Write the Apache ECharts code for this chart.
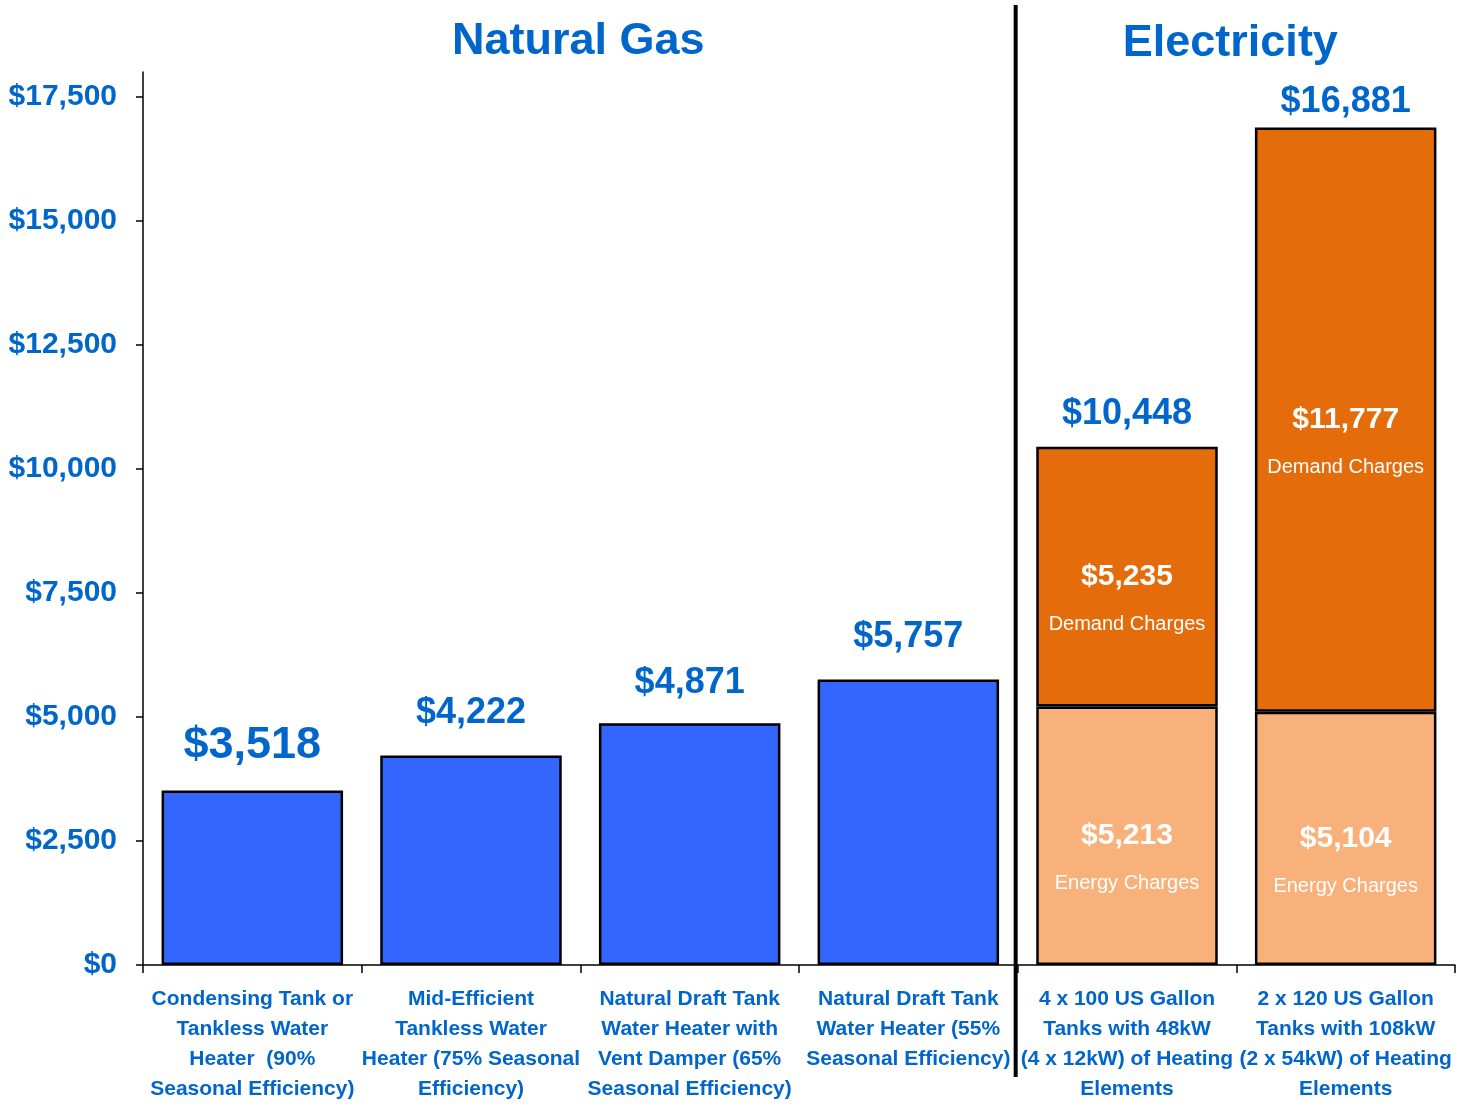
<!DOCTYPE html>
<html>
<head>
<meta charset="utf-8">
<script src="https://cdn.jsdelivr.net/npm/echarts@6/dist/echarts.min.js"></script>
<style>
html,body{margin:0;padding:0;background:#fff;}
#chart{width:1460px;height:1110px;}
</style>
</head>
<body>
<div id="chart"></div>
<script>
const categories = [
  'Condensing Tank or\nTankless Water\nHeater  (90%\nSeasonal Efficiency)',
  'Mid-Efficient\nTankless Water\nHeater (75% Seasonal\nEfficiency)',
  'Natural Draft Tank\nWater Heater with\nVent Damper (65%\nSeasonal Efficiency)',
  'Natural Draft Tank\nWater Heater (55%\nSeasonal Efficiency)',
  '4 x 100 US Gallon\nTanks with 48kW\n(4 x 12kW) of Heating\nElements',
  '2 x 120 US Gallon\nTanks with 108kW\n(2 x 54kW) of Heating\nElements'
];
const gasCost = [3518, 4222, 4871, 5757, null, null];
const energyCharges = [null, null, null, null, 5213, 5104];
const demandCharges = [null, null, null, null, 5235, 11777];
const yTickValues = [0, 2500, 5000, 7500, 10000, 12500, 15000, 17500];
const groupTitles = ['Natural Gas', 'Electricity'];

const BLUE_TEXT = '#0066CC';
const MAIN_FONT = '"Liberation Sans", Arial, sans-serif';
const fmt = v => '$' + v.toLocaleString('en-US');

const totals = categories.map((c, i) =>
  gasCost[i] != null ? gasCost[i] : energyCharges[i] + demandCharges[i]);

// label styling per total (size/lift), kept separate from the data
const totalLabelSize = [45, 36, 36, 36, 36, 36];
const totalLabelLift = [22, 24, 22, 24, 15, 7];

const chart = echarts.init(document.getElementById('chart'), null, {renderer: 'canvas'});

const barStyle = c => ({color: c, borderColor: '#000', borderWidth: 2.5});
const innerLabel = name => ({
  show: true,
  position: 'inside',
  offset: [0, 24],
  formatter: p => '{v|' + fmt(p.value) + '}\n{n|' + name + '}',
  rich: {
    v: {fontSize: 30, fontWeight: 'bold', color: '#fff', fontFamily: MAIN_FONT, lineHeight: 48},
    n: {fontSize: 20, color: '#fff', fontFamily: MAIN_FONT, lineHeight: 48}
  }
});

const option = {
  animation: false,
  backgroundColor: '#fff',
  grid: {left: 143, right: 5, top: 72, bottom: 145, containLabel: false, outerBoundsMode: 'none'},
  xAxis: {
    type: 'category',
    data: categories,
    axisLine: {show: true, lineStyle: {color: '#000', width: 1.5}},
    axisTick: {show: true, alignWithLabel: false, length: 8, lineStyle: {color: '#000', width: 1.5}},
    axisLabel: {
      interval: 0, margin: 19, color: BLUE_TEXT, fontFamily: MAIN_FONT,
      fontWeight: 'bold', fontSize: 21, lineHeight: 30
    },
    splitLine: {show: false}
  },
  yAxis: {
    type: 'value',
    min: 0, max: 18000, interval: 2500,
    axisLine: {show: true, lineStyle: {color: '#000', width: 1.5}},
    axisTick: {show: true, length: 7, lineStyle: {color: '#000', width: 1.5}, customValues: yTickValues},
    axisLabel: {
      customValues: yTickValues,
      formatter: v => fmt(v), margin: 26, color: BLUE_TEXT,
      fontFamily: MAIN_FONT, fontWeight: 'bold', fontSize: 30
    },
    splitLine: {show: false}
  },
  series: [
    {
      name: 'Natural Gas', type: 'bar', stack: 'cost', barCategoryGap: '17%',
      data: gasCost.map(v => v == null ? '-' : v),
      itemStyle: barStyle('#3366FF')
    },
    {
      name: 'Energy Charges', type: 'bar', stack: 'cost', barCategoryGap: '17%',
      data: energyCharges.map(v => v == null ? '-' : v),
      itemStyle: barStyle('#F8B17A'),
      label: innerLabel('Energy Charges')
    },
    {
      name: 'Demand Charges', type: 'bar', stack: 'cost', barCategoryGap: '17%',
      data: demandCharges.map(v => v == null ? '-' : v),
      itemStyle: barStyle('#E46C0A'),
      label: innerLabel('Demand Charges')
    },
    {
      name: 'Total', type: 'scatter', symbolSize: 0, silent: true, z: 10,
      itemStyle: {opacity: 1},
      data: totals.map((v, i) => ({
        value: v,
        label: {
          show: true, position: 'top', distance: totalLabelLift[i], opacity: 1,
          formatter: fmt(v), color: BLUE_TEXT, fontFamily: MAIN_FONT,
          fontWeight: 'bold', fontSize: totalLabelSize[i]
        }
      }))
    }
  ]
};
chart.setOption(option);

// decorations positioned from the axis scale
const px = i => chart.convertToPixel({xAxisIndex: 0}, i);
const dividerX = (px(3) + px(4)) / 2;
const gasCenter = (px(0) + px(3)) / 2;
const elecCenter = (px(4) + px(5)) / 2;
chart.setOption({
  graphic: [
    {
      type: 'line', z: 100,
      shape: {x1: dividerX - 2, y1: 5, x2: dividerX - 2, y2: 1077},
      style: {stroke: '#000', lineWidth: 4}
    },
    {
      type: 'text', z: 100, x: gasCenter - 2, y: 42,
      style: {text: groupTitles[0], fill: BLUE_TEXT, font: 'bold 45px ' + MAIN_FONT, textAlign: 'center', textVerticalAlign: 'middle'}
    },
    {
      type: 'text', z: 100, x: elecCenter - 6, y: 44,
      style: {text: groupTitles[1], fill: BLUE_TEXT, font: 'bold 45px ' + MAIN_FONT, textAlign: 'center', textVerticalAlign: 'middle'}
    }
  ]
});
</script>
</body>
</html>
